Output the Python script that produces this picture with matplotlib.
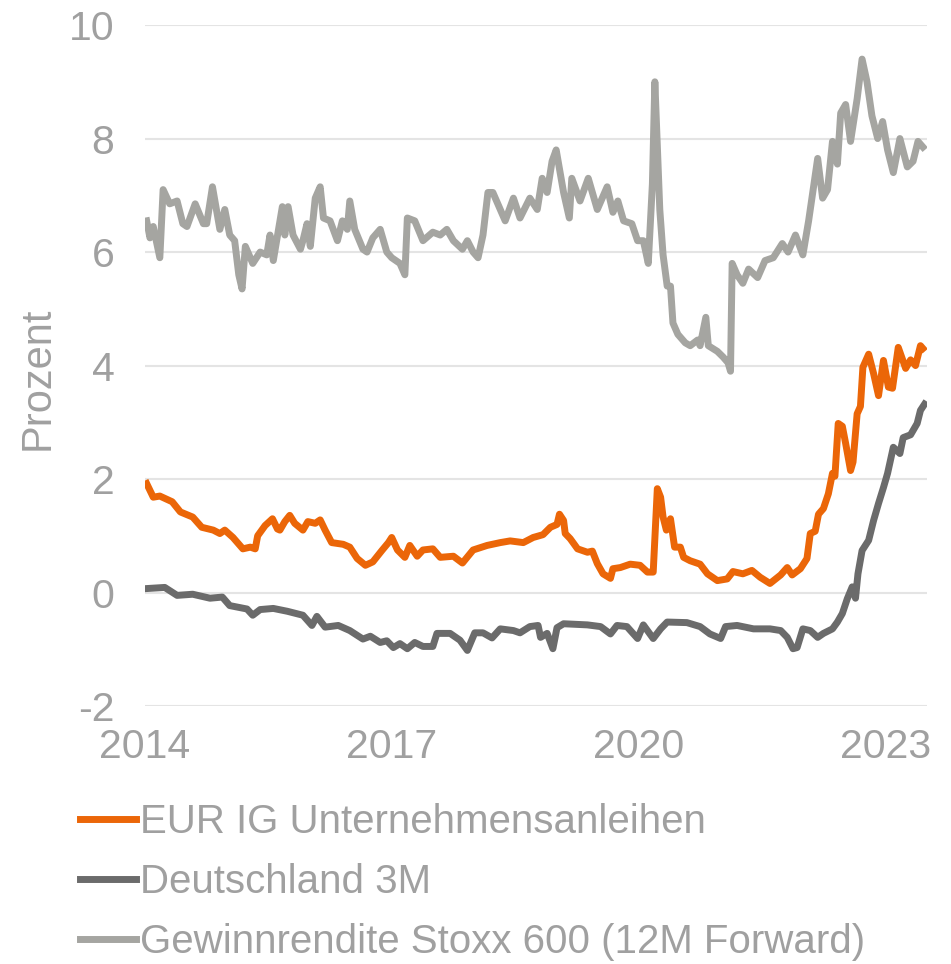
import matplotlib.pyplot as plt

plt.rcParams['font.family'] = ['Liberation Sans', 'DejaVu Sans']
plt.rcParams['axes.unicode_minus'] = False

# EUR IG Unternehmensanleihen (Jahr als Dezimalzahl, Rendite in %)
ig_t = [2014.02, 2014.10, 2014.18, 2014.33, 2014.43, 2014.58, 2014.69, 2014.83, 2014.91, 2014.97,
        2015.07, 2015.19, 2015.28, 2015.34, 2015.37, 2015.46, 2015.55, 2015.61, 2015.64, 2015.70,
        2015.76, 2015.82, 2015.92, 2015.98, 2016.07, 2016.13, 2016.19, 2016.27, 2016.41, 2016.49,
        2016.58, 2016.68, 2016.77, 2016.88, 2016.96, 2017.00, 2017.07, 2017.16, 2017.22, 2017.31,
        2017.38, 2017.50, 2017.59, 2017.75, 2017.86, 2017.99, 2018.16, 2018.32, 2018.44, 2018.60,
        2018.72, 2018.84, 2018.93, 2019.01, 2019.04, 2019.09, 2019.11, 2019.17, 2019.26, 2019.38,
        2019.44, 2019.50, 2019.57, 2019.66, 2019.69, 2019.78, 2019.90, 2020.02, 2020.11, 2020.18,
        2020.23, 2020.27, 2020.30, 2020.34, 2020.39, 2020.44, 2020.51, 2020.55, 2020.63, 2020.75,
        2020.84, 2020.96, 2021.08, 2021.15, 2021.27, 2021.38, 2021.48, 2021.60, 2021.73, 2021.81,
        2021.87, 2021.97, 2022.05, 2022.09, 2022.15, 2022.19, 2022.25, 2022.31, 2022.36, 2022.39,
        2022.43, 2022.48, 2022.52, 2022.58, 2022.61, 2022.66, 2022.70, 2022.73, 2022.80, 2022.86,
        2022.92, 2022.98, 2023.04, 2023.09, 2023.16, 2023.25, 2023.31, 2023.37, 2023.43, 2023.46]
ig_v = [1.92, 1.68, 1.70, 1.60, 1.42, 1.33, 1.15, 1.10, 1.04, 1.10,
        0.97, 0.77, 0.80, 0.77, 1.00, 1.18, 1.30, 1.12, 1.10, 1.25,
        1.36, 1.22, 1.10, 1.25, 1.22, 1.28, 1.10, 0.88, 0.85, 0.80,
        0.60, 0.48, 0.54, 0.74, 0.88, 0.97, 0.75, 0.62, 0.83, 0.64,
        0.75, 0.77, 0.62, 0.64, 0.52, 0.75, 0.83, 0.88, 0.91, 0.88,
        0.97, 1.02, 1.15, 1.20, 1.38, 1.27, 1.04, 0.95, 0.77, 0.71,
        0.73, 0.51, 0.33, 0.25, 0.42, 0.44, 0.50, 0.48, 0.36, 0.36,
        1.83, 1.68, 1.33, 1.10, 1.30, 0.80, 0.80, 0.62, 0.56, 0.50,
        0.33, 0.21, 0.24, 0.37, 0.33, 0.39, 0.27, 0.16, 0.31, 0.44,
        0.31, 0.42, 0.60, 1.04, 1.08, 1.38, 1.48, 1.74, 2.10, 2.05,
        2.98, 2.93, 2.63, 2.15, 2.30, 3.15, 3.28, 3.97, 4.20, 3.86,
        3.47, 4.09, 3.62, 3.60, 4.32, 3.95, 4.10, 4.00, 4.35, 4.30]

# Deutschland 3M
de_t = [2014.02, 2014.24, 2014.39, 2014.58, 2014.79, 2014.94, 2015.03, 2015.24, 2015.31, 2015.40,
        2015.56, 2015.73, 2015.92, 2016.03, 2016.09, 2016.19, 2016.35, 2016.49, 2016.65, 2016.74,
        2016.86, 2016.94, 2017.02, 2017.10, 2017.19, 2017.28, 2017.38, 2017.50, 2017.55, 2017.71,
        2017.83, 2017.92, 2018.01, 2018.11, 2018.22, 2018.32, 2018.48, 2018.56, 2018.68, 2018.78,
        2018.81, 2018.89, 2018.96, 2019.01, 2019.09, 2019.38, 2019.54, 2019.66, 2019.74, 2019.86,
        2019.99, 2020.06, 2020.18, 2020.27, 2020.35, 2020.59, 2020.75, 2020.87, 2021.00, 2021.06,
        2021.20, 2021.40, 2021.60, 2021.73, 2021.81, 2021.88, 2021.93, 2022.00, 2022.09, 2022.18,
        2022.25, 2022.36, 2022.42, 2022.48, 2022.54, 2022.60, 2022.64, 2022.67, 2022.72, 2022.80,
        2022.86, 2022.92, 2022.98, 2023.03, 2023.10, 2023.18, 2023.22, 2023.31, 2023.39, 2023.43,
        2023.48]
de_v = [0.07, 0.09, -0.05, -0.03, -0.10, -0.08, -0.23, -0.29, -0.40, -0.30,
        -0.28, -0.33, -0.40, -0.58, -0.42, -0.61, -0.58, -0.67, -0.82, -0.77,
        -0.88, -0.85, -0.97, -0.90, -0.99, -0.88, -0.95, -0.95, -0.72, -0.72,
        -0.84, -1.02, -0.71, -0.71, -0.80, -0.64, -0.67, -0.71, -0.60, -0.58,
        -0.79, -0.72, -0.99, -0.62, -0.55, -0.57, -0.60, -0.73, -0.58, -0.60,
        -0.81, -0.57, -0.81, -0.64, -0.52, -0.53, -0.60, -0.73, -0.81, -0.60,
        -0.58, -0.64, -0.64, -0.67, -0.79, -0.99, -0.97, -0.64, -0.67, -0.79,
        -0.72, -0.64, -0.52, -0.37, -0.11, 0.10, -0.10, 0.33, 0.74, 0.92,
        1.27, 1.57, 1.85, 2.10, 2.56, 2.45, 2.73, 2.78, 2.98, 3.21,
        3.32]

# Gewinnrendite Stoxx 600 (12M Forward)
gw_t = [2014.02, 2014.06, 2014.10, 2014.18, 2014.22, 2014.30, 2014.39, 2014.46, 2014.51, 2014.61,
        2014.71, 2014.75, 2014.82, 2014.91, 2014.97, 2015.03, 2015.09, 2015.14, 2015.18, 2015.22,
        2015.28, 2015.31, 2015.40, 2015.48, 2015.52, 2015.56, 2015.67, 2015.70, 2015.74, 2015.80,
        2015.89, 2015.92, 2015.97, 2016.01, 2016.07, 2016.13, 2016.17, 2016.25, 2016.34, 2016.40,
        2016.46, 2016.49, 2016.55, 2016.65, 2016.70, 2016.77, 2016.86, 2016.94, 2017.00, 2017.10,
        2017.16, 2017.19, 2017.28, 2017.38, 2017.50, 2017.59, 2017.67, 2017.75, 2017.86, 2017.92,
        2017.99, 2018.05, 2018.11, 2018.17, 2018.23, 2018.32, 2018.38, 2018.48, 2018.56, 2018.68,
        2018.77, 2018.83, 2018.89, 2018.95, 2019.00, 2019.09, 2019.16, 2019.19, 2019.29, 2019.39,
        2019.50, 2019.62, 2019.69, 2019.75, 2019.82, 2019.92, 2019.99, 2020.06, 2020.12, 2020.17,
        2020.20, 2020.24, 2020.26, 2020.30, 2020.35, 2020.39, 2020.42, 2020.48, 2020.57, 2020.63,
        2020.72, 2020.75, 2020.82, 2020.85, 2020.96, 2021.03, 2021.09, 2021.12, 2021.14, 2021.20,
        2021.27, 2021.34, 2021.45, 2021.54, 2021.64, 2021.75, 2021.82, 2021.91, 2022.00, 2022.07,
        2022.13, 2022.18, 2022.24, 2022.30, 2022.36, 2022.42, 2022.46, 2022.52, 2022.58, 2022.66,
        2022.72, 2022.78, 2022.84, 2022.91, 2022.97, 2023.03, 2023.10, 2023.18, 2023.27, 2023.34,
        2023.40, 2023.46]
gw_v = [6.55, 6.25, 6.45, 5.90, 7.10, 6.85, 6.90, 6.50, 6.45, 6.85,
        6.50, 6.50, 7.15, 6.40, 6.75, 6.30, 6.20, 5.60, 5.35, 6.10,
        5.90, 5.80, 6.00, 5.95, 6.30, 5.85, 6.80, 6.30, 6.80, 6.30,
        6.05, 6.20, 6.50, 6.10, 6.95, 7.15, 6.60, 6.55, 6.20, 6.55,
        6.40, 6.90, 6.40, 6.05, 6.00, 6.25, 6.40, 6.00, 5.90, 5.80,
        5.60, 6.60, 6.55, 6.20, 6.35, 6.30, 6.40, 6.20, 6.05, 6.20,
        6.00, 5.90, 6.30, 7.05, 7.05, 6.75, 6.55, 6.95, 6.60, 6.95,
        6.75, 7.30, 7.05, 7.60, 7.80, 7.05, 6.60, 7.30, 6.90, 7.30,
        6.75, 7.15, 6.70, 6.90, 6.55, 6.50, 6.20, 6.20, 5.80, 7.20,
        9.00, 7.50, 6.75, 5.95, 5.40, 5.40, 4.75, 4.55, 4.40, 4.35,
        4.45, 4.35, 4.85, 4.35, 4.25, 4.15, 4.05, 3.90, 5.80, 5.60,
        5.45, 5.70, 5.55, 5.85, 5.90, 6.15, 6.00, 6.30, 5.95, 6.55,
        7.15, 7.65, 6.95, 7.10, 7.95, 7.55, 8.45, 8.60, 7.95, 8.70,
        9.40, 9.00, 8.40, 8.00, 8.30, 7.80, 7.40, 8.00, 7.50, 7.60,
        7.95, 7.85]

labels = ['EUR IG Unternehmensanleihen', 'Deutschland 3M', 'Gewinnrendite Stoxx 600 (12M Forward)']
colors = ['#EB6608', '#6B6B6B', '#A5A5A1']
text_grey = '#A0A0A0'

fig = plt.figure(figsize=(9.51, 9.64), dpi=100)
ax = fig.add_axes([0.1525, 0.2676, 0.8223, 0.7064])

ax.plot(ig_t, ig_v, color=colors[0], lw=5, label=labels[0], solid_joinstyle='round')
ax.plot(de_t, de_v, color=colors[1], lw=5, label=labels[1], solid_joinstyle='round')
ax.plot(gw_t, gw_v, color=colors[2], lw=5, label=labels[2], solid_joinstyle='round')

ax.set_xlim(2014.0, 2023.51)
ax.set_ylim(-2, 10)
ax.set_yticks(range(-2, 11, 2))
ax.set_xticks([2014, 2017, 2020, 2023])
ax.grid(axis='y', color='#E4E4E4', lw=1.5)
ax.set_axisbelow(True)
for s in ax.spines.values():
    s.set_visible(False)
ax.tick_params(axis='both', length=0, labelsize=29.5, colors=text_grey)
ax.tick_params(axis='y', pad=22)
ax.tick_params(axis='x', pad=16)

fig.text(38 / 951, 1 - 378 / 964, 'Prozent', rotation=90, ha='center', va='center',
         fontsize=30, color=text_grey)

leg = fig.legend(loc='upper left', bbox_to_anchor=(80 / 951, 1 - 803 / 964), frameon=False,
                 fontsize=29, handlelength=1.4, handletextpad=0.1, labelspacing=0.55,
                 borderaxespad=0, borderpad=0)
for t in leg.get_texts():
    t.set_color(text_grey)

plt.savefig('out.png', dpi=100)
